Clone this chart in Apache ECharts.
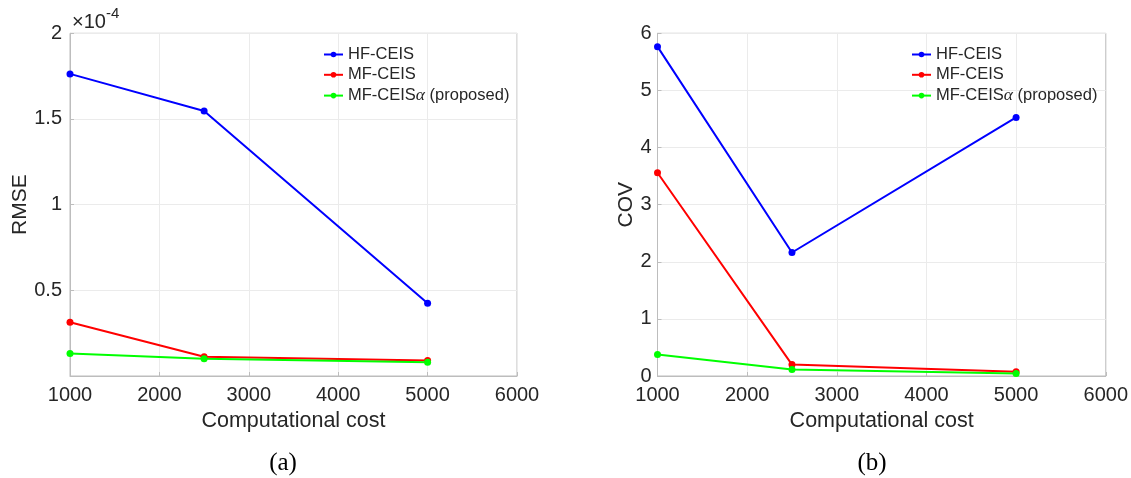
<!DOCTYPE html>
<html>
<head>
<meta charset="utf-8">
<script src="https://cdn.jsdelivr.net/npm/echarts@6/dist/echarts.min.js"></script>
<style>
  html, body { margin: 0; padding: 0; background: #ffffff; }
  #chart { width: 1131px; height: 478px; }
</style>
</head>
<body>
<div id="chart"></div>
<script>
// Computational cost (x values shared by both panels)
const costs = [1000, 2500, 5000];
const xTicks = [1000, 2000, 3000, 4000, 5000, 6000];

// Panel (a): RMSE
const rmseHF = [1.763e-4, 1.547e-4, 0.424e-4];
const rmseMF = [0.314e-4, 0.112e-4, 0.090e-4];
const rmseMFa = [0.132e-4, 0.101e-4, 0.080e-4];

// Panel (b): COV
const covHF = [5.766, 2.162, 4.528];
const covMF = [3.558, 0.200, 0.075];
const covMFa = [0.375, 0.112, 0.045];

const seriesNames = ['HF-CEIS', 'MF-CEIS', 'MF-CEISα (proposed)'];
const seriesColors = ['#0000ff', '#ff0000', '#00ff00'];
const panelLabels = ['(a)', '(b)'];

const pairs = vals => costs.map((c, i) => [c, vals[i]]);

const textColor = '#262626';
const sans = 'Liberation Sans';
const boxColor = '#bdbdbd';
const gridColor = '#ebebeb';

function xAxisFor(gridIndex) {
  return {
    type: 'value', gridIndex,
    min: xTicks[0], max: xTicks[xTicks.length - 1], interval: 1000,
    name: 'Computational cost', nameLocation: 'middle', nameGap: 34,
    nameTextStyle: { fontFamily: sans, fontSize: 21.5, color: textColor },
    axisLine: { show: true, lineStyle: { color: boxColor, width: 1 } },
    axisTick: { show: true, inside: true, length: 4, lineStyle: { color: boxColor } },
    axisLabel: { fontFamily: sans, fontSize: 20, color: textColor, margin: 9, formatter: v => String(v) },
    splitLine: { show: true, lineStyle: { color: gridColor, width: 1 } }
  };
}

function lineSeries(name, color, data, idx) {
  return {
    type: 'line', name, data,
    xAxisIndex: idx, yAxisIndex: idx,
    symbol: 'circle', symbolSize: 7,
    lineStyle: { color, width: 2 },
    itemStyle: { color },
    emphasis: { disabled: true },
    z: 3
  };
}

function legendFor(left) {
  return {
    left, top: 41, orient: 'vertical',
    itemWidth: 19, itemHeight: 7, itemGap: 3.3,
    selectedMode: false,
    data: seriesNames,
    formatter: n => n.replace('α', '{a|α}'),
    textStyle: {
      fontFamily: sans, fontSize: 16.5, color: textColor, lineHeight: 17,
      rich: { a: { fontFamily: 'Liberation Serif', fontStyle: 'italic', fontSize: 17.5, color: textColor } }
    }
  };
}

const chart = echarts.init(document.getElementById('chart'), null, { renderer: 'canvas' });

chart.setOption({
  animation: false,
  backgroundColor: '#ffffff',
  grid: [
    { left: 70, top: 33.3, width: 447, height: 342.7, show: true, borderColor: boxColor, borderWidth: 1, backgroundColor: 'transparent' },
    { left: 657.5, top: 33.3, width: 449, height: 342.7, show: true, borderColor: boxColor, borderWidth: 1, backgroundColor: 'transparent' }
  ],
  xAxis: [xAxisFor(0), xAxisFor(1)],
  yAxis: [
    {
      type: 'value', gridIndex: 0,
      min: 0, max: 2e-4, interval: 0.5e-4,
      name: 'RMSE', nameLocation: 'middle', nameGap: 36,
      nameTextStyle: { fontFamily: sans, fontSize: 21, color: textColor },
      axisLine: { show: true, lineStyle: { color: boxColor } },
      axisTick: { show: true, inside: true, length: 4, lineStyle: { color: boxColor } },
      axisLabel: {
        fontFamily: sans, fontSize: 20, color: textColor, margin: 8,
        showMinLabel: false,
        formatter: v => String(Math.round(v * 1e5) / 10)
      },
      splitLine: { show: true, lineStyle: { color: gridColor } }
    },
    {
      type: 'value', gridIndex: 1,
      min: 0, max: 6, interval: 1,
      name: 'COV', nameLocation: 'middle', nameGap: 20,
      nameTextStyle: { fontFamily: sans, fontSize: 21, color: textColor },
      axisLine: { show: true, lineStyle: { color: boxColor } },
      axisTick: { show: true, inside: true, length: 4, lineStyle: { color: boxColor } },
      axisLabel: { fontFamily: sans, fontSize: 20, color: textColor, margin: 6 },
      splitLine: { show: true, lineStyle: { color: gridColor } }
    }
  ],
  legend: [legendFor(318), legendFor(906)],
  series: [
    lineSeries(seriesNames[0], seriesColors[0], pairs(rmseHF), 0),
    lineSeries(seriesNames[1], seriesColors[1], pairs(rmseMF), 0),
    lineSeries(seriesNames[2], seriesColors[2], pairs(rmseMFa), 0),
    lineSeries(seriesNames[0], seriesColors[0], pairs(covHF), 1),
    lineSeries(seriesNames[1], seriesColors[1], pairs(covMF), 1),
    lineSeries(seriesNames[2], seriesColors[2], pairs(covMFa), 1)
  ],
  graphic: [
    {
      type: 'text', left: 72, top: 6,
      style: {
        text: '{m|×10}{e|-4}',
        rich: {
          m: { fontFamily: sans, fontSize: 20, fill: textColor, verticalAlign: 'bottom', lineHeight: 26 },
          e: { fontFamily: sans, fontSize: 15, fill: textColor, verticalAlign: 'top', lineHeight: 26, padding: [0, 0, 12, 0] }
        }
      }
    },
    {
      type: 'text', x: 283, y: 463,
      style: { text: panelLabels[0], fontFamily: 'Liberation Serif', fontSize: 25, fill: '#000000', align: 'center', verticalAlign: 'middle' }
    },
    {
      type: 'text', x: 872, y: 463,
      style: { text: panelLabels[1], fontFamily: 'Liberation Serif', fontSize: 25, fill: '#000000', align: 'center', verticalAlign: 'middle' }
    }
  ]
});
</script>
</body>
</html>
